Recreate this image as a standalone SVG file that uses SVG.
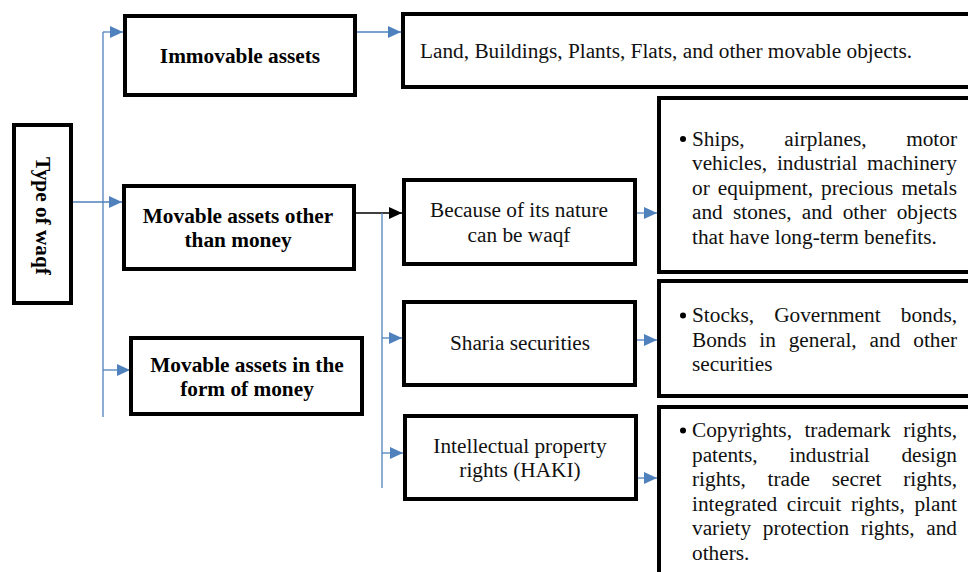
<svg xmlns="http://www.w3.org/2000/svg" width="968" height="572" viewBox="0 0 968 572">
<style>
.box{fill:#fff;stroke:#000;stroke-width:4}
.b{font-family:"Liberation Serif","Times New Roman",serif;font-size:21.3px;font-weight:bold;fill:#000;text-anchor:middle}
.t{font-family:"Liberation Serif","Times New Roman",serif;font-size:21.3px;fill:#111}
.c{text-anchor:middle}
.e{text-anchor:end}
.bl{fill:none;stroke:#4F81BD;stroke-width:1.3}
.bk{fill:none;stroke:#000;stroke-width:1.3}
</style>
<defs>
<marker id="ab" markerUnits="userSpaceOnUse" markerWidth="14" markerHeight="12" refX="13" refY="6" orient="auto">
<path d="M0,0 L13,6 L0,12 Z" fill="#4F81BD"/>
</marker>
<marker id="ak" markerUnits="userSpaceOnUse" markerWidth="14" markerHeight="12" refX="13" refY="6" orient="auto">
<path d="M0,0 L13,6 L0,12 Z" fill="#000"/>
</marker>
</defs>
<g id="connectors">
<line class="bl" x1="103" y1="32" x2="103" y2="417"/>
<line class="bl" x1="103" y1="32" x2="123" y2="32" marker-end="url(#ab)"/>
<line class="bl" x1="73" y1="202" x2="122" y2="202" marker-end="url(#ab)"/>
<line class="bl" x1="103" y1="370" x2="130" y2="370" marker-end="url(#ab)"/>
<line class="bl" x1="357" y1="32" x2="401" y2="32" marker-end="url(#ab)"/>
<line class="bk" x1="355" y1="213" x2="402" y2="213" marker-end="url(#ak)"/>
<line class="bl" x1="382" y1="213" x2="382" y2="488"/>
<line class="bl" x1="382" y1="338" x2="402" y2="338" marker-end="url(#ab)"/>
<line class="bl" x1="382" y1="453" x2="403" y2="453" marker-end="url(#ab)"/>
<line class="bl" x1="637" y1="213" x2="657" y2="213" marker-end="url(#ab)"/>
<line class="bl" x1="637" y1="340" x2="657" y2="340" marker-end="url(#ab)"/>
<line class="bl" x1="638" y1="478" x2="657" y2="478" marker-end="url(#ab)"/>
</g>
<g id="type">
<rect class="box" x="14" y="125" width="57" height="178"/>
<text class="b" transform="translate(36,216) rotate(90)">Type of waqf</text>
</g>
<g id="immovable">
<rect class="box" x="125" y="16" width="230" height="79"/>
<text class="b" x="240" y="63">Immovable assets</text>
</g>
<g id="movable-other">
<rect class="box" x="124" y="186" width="230" height="83"/>
<text class="b" x="238" y="223">Movable assets other</text>
<text class="b" x="238" y="247">than money</text>
</g>
<g id="movable-money">
<rect class="box" x="131" y="338" width="231" height="76"/>
<text class="b" x="247" y="372">Movable assets in the</text>
<text class="b" x="247" y="396">form of money</text>
</g>
<g id="land">
<rect class="box" x="403" y="14" width="570" height="73"/>
<text class="t" x="420" y="58">Land, Buildings, Plants, Flats, and other movable objects.</text>
</g>
<g id="nature">
<rect class="box" x="404" y="180" width="231" height="84"/>
<text class="t c" x="519" y="217">Because of its nature</text>
<text class="t c" x="519" y="242">can be waqf</text>
</g>
<g id="sharia">
<rect class="box" x="404" y="302" width="231" height="83"/>
<text class="t c" x="520" y="350">Sharia securities</text>
</g>
<g id="haki">
<rect class="box" x="405" y="416" width="231" height="83"/>
<text class="t c" x="520" y="453">Intellectual property</text>
<text class="t c" x="520" y="477">rights (HAKI)</text>
</g>
<g id="ships">
<rect class="box" x="659" y="98" width="320" height="174"/>
<circle cx="683" cy="139" r="3"/>
<text class="t"><tspan x="692" y="145.5">Ships,</tspan><tspan x="784.3" y="145.5">airplanes,</tspan><tspan class="e" x="957" y="145.5">motor</tspan></text>
<text class="t"><tspan x="692" y="170">vehicles,</tspan><tspan x="776.9" y="170">industrial</tspan><tspan class="e" x="957" y="170">machinery</tspan></text>
<text class="t"><tspan x="692" y="194.5">or</tspan><tspan x="717.8" y="194.5">equipment,</tspan><tspan x="821.1" y="194.5">precious</tspan><tspan class="e" x="957" y="194.5">metals</tspan></text>
<text class="t"><tspan x="692" y="219">and</tspan><tspan x="733" y="219">stones,</tspan><tspan x="801.7" y="219">and</tspan><tspan x="842.7" y="219">other</tspan><tspan class="e" x="957" y="219">objects</tspan></text>
<text class="t" x="692" y="243.5">that have long-term benefits.</text>
</g>
<g id="stocks">
<rect class="box" x="659" y="281" width="320" height="115"/>
<circle cx="683" cy="315.5" r="3"/>
<text class="t"><tspan x="692" y="322">Stocks,</tspan><tspan x="774.2" y="322">Government</tspan><tspan class="e" x="957" y="322">bonds,</tspan></text>
<text class="t"><tspan x="692" y="346.5">Bonds</tspan><tspan x="759.3" y="346.5">in</tspan><tspan x="788.7" y="346.5">general,</tspan><tspan x="869.6" y="346.5">and</tspan><tspan class="e" x="957" y="346.5">other</tspan></text>
<text class="t" x="692" y="371">securities</text>
</g>
<g id="copyrights">
<rect class="box" x="659" y="407" width="320" height="170"/>
<circle cx="683" cy="430.5" r="3"/>
<text class="t"><tspan x="692" y="437">Copyrights,</tspan><tspan x="804.4" y="437">trademark</tspan><tspan class="e" x="957" y="437">rights,</tspan></text>
<text class="t"><tspan x="692" y="461.5">patents,</tspan><tspan x="789.3" y="461.5">industrial</tspan><tspan class="e" x="957" y="461.5">design</tspan></text>
<text class="t"><tspan x="692" y="486">rights,</tspan><tspan x="767.5" y="486">trade</tspan><tspan x="831.8" y="486">secret</tspan><tspan class="e" x="957" y="486">rights,</tspan></text>
<text class="t"><tspan x="692" y="510.5">integrated</tspan><tspan x="786.8" y="510.5">circuit</tspan><tspan x="850.9" y="510.5">rights,</tspan><tspan class="e" x="957" y="510.5">plant</tspan></text>
<text class="t"><tspan x="692" y="535">variety</tspan><tspan x="762.8" y="535">protection</tspan><tspan x="860.8" y="535">rights,</tspan><tspan class="e" x="957" y="535">and</tspan></text>
<text class="t" x="692" y="559.5">others.</text>
</g>
</svg>
